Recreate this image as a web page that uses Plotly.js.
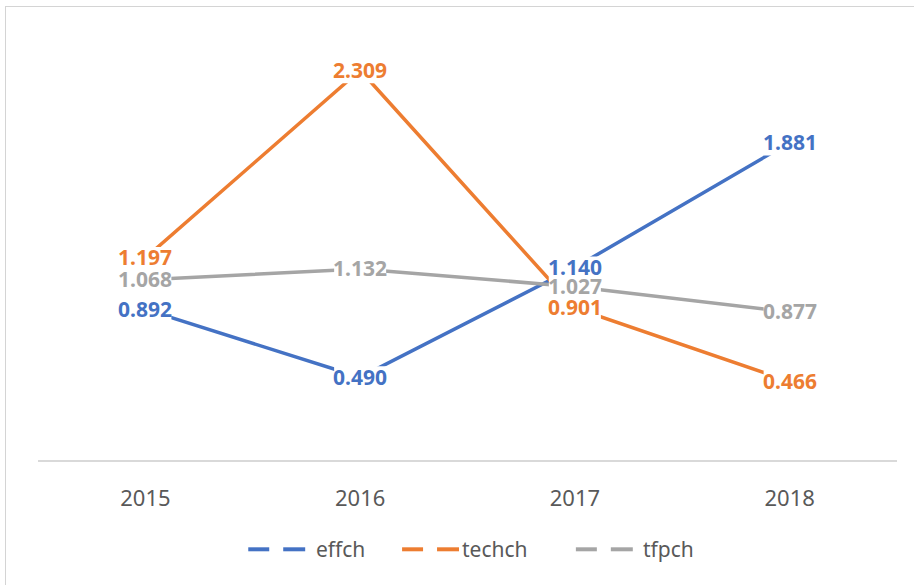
<!DOCTYPE html>
<html>
<head>
<meta charset="utf-8">
<script src="https://cdn.plot.ly/plotly-3.0.1.min.js"></script>
<style>
  html, body { margin: 0; padding: 0; background: #fff; }
  #wrap { position: relative; width: 914px; height: 585px; overflow: hidden; }
  #chart { position: absolute; left: 0; top: 0; width: 914px; height: 585px; }
  #frame { position: absolute; left: 5px; top: 6px; width: 940px; height: 620px;
           border: 1px solid #d4d4d4; pointer-events: none; }
</style>
</head>
<body>
<div id="wrap">
  <div id="chart"></div>
  <div id="frame"></div>
</div>
<script>
// ---- data ----
const years = ["2015", "2016", "2017", "2018"];
const seriesNames = ["effch", "techch", "tfpch"];
const effch  = [0.892, 0.490, 1.140, 1.881];
const techch = [1.197, 2.309, 0.901, 0.466];
const tfpch  = [1.068, 1.132, 1.027, 0.877];
const seriesColors = ["#4472C4", "#ED7D31", "#A5A5A5"];

const allValues = [effch, techch, tfpch];
const FONT = "Noto Sans, Open Sans, sans-serif";

// layout geometry (pixels)
const M = { l: 37.5, r: 16.5, t: 37.7, b: 125.3 };
const W = 914, H = 585;
const plotW = W - M.l - M.r, plotH = H - M.t - M.b;
const px2x = p => (p - M.l) / plotW;
const py2y = p => (H - M.b - p) / plotH;

const traces = allValues.map((vals, i) => ({
  type: "scatter", mode: "lines",
  x: years, y: vals, name: seriesNames[i],
  line: { color: seriesColors[i], width: 3.5 },
  showlegend: false, hoverinfo: "skip"
}));

const annotations = [];
const shapes = [];
// data labels: white label boxes (hide the lines behind) + bold value text
allValues.forEach((vals, i) => {
  vals.forEach((v, j) => {
    shapes.push({
      type: "rect", layer: "above",
      xref: "x", yref: "y",
      xsizemode: "pixel", ysizemode: "pixel",
      xanchor: j, yanchor: v,
      x0: -26, x1: 26, y0: -13, y1: 11,
      fillcolor: "#ffffff", line: { width: 0 }
    });
    annotations.push({
      x: j, y: v, xref: "x", yref: "y",
      text: "<b>" + v.toFixed(3) + "</b>", showarrow: false,
      xanchor: "center", yanchor: "middle", yshift: 0.5,
      font: { family: FONT, size: 21, color: seriesColors[i] }
    });
  });
});

// custom legend: "— —  name"
const legendStarts = [248, 402, 576];
const legendTextX = [314, 460, 641];
const legendY = 549;
seriesNames.forEach((name, i) => {
  const s = legendStarts[i];
  [[s, s + 21], [s + 35, s + 57]].forEach(seg => {
    shapes.push({
      type: "line", xref: "paper", yref: "paper",
      x0: px2x(seg[0]), x1: px2x(seg[1]), y0: py2y(legendY), y1: py2y(legendY),
      line: { color: seriesColors[i], width: 4 }
    });
  });
  annotations.push({
    xref: "paper", yref: "paper", x: px2x(legendTextX[i]), y: py2y(legendY),
    xanchor: "left", yanchor: "middle", showarrow: false,
    text: name, font: { family: FONT, size: 21, color: "#595959" }
  });
});

const layout = {
  width: W, height: H,
  margin: M,
  paper_bgcolor: "#ffffff", plot_bgcolor: "#ffffff",
  showlegend: false,
  xaxis: {
    type: "category", range: [-0.5, 3.5],
    showline: true, linecolor: "#d9d9d9", linewidth: 2,
    showgrid: false, zeroline: false, ticks: "",
    ticklabelstandoff: 18,
    tickfont: { family: FONT, size: 22, color: "#595959" },
    fixedrange: true
  },
  yaxis: {
    range: [0, 2.5], visible: false, showgrid: false, zeroline: false, fixedrange: true
  },
  shapes: shapes,
  annotations: annotations
};

Plotly.newPlot("chart", traces, layout, { displayModeBar: false, staticPlot: true });
</script>
</body>
</html>
